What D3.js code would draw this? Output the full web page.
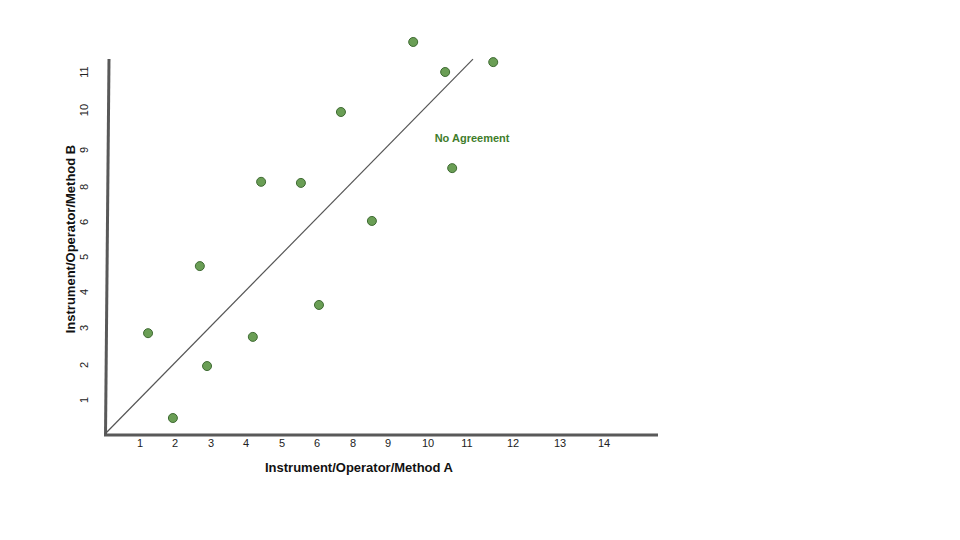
<!DOCTYPE html>
<html><head><meta charset="utf-8">
<script src="https://cdn.jsdelivr.net/npm/d3@7"></script>
<style>body{margin:0;background:#fff}svg{display:block}text{font-family:"Liberation Sans",Arial,sans-serif}</style>
</head><body>
<svg id="c" width="960" height="540"></svg>
<script>
// tick labels as printed on the hand-drawn axes (7 is skipped on both)
const xTicks = [1,2,3,4,5,6,8,9,10,11,12,13,14];
const yTicks = [1,2,3,4,5,6,8,9,10,11];
// measurements
const methodA = [1.23,1.94,2.69,2.89,4.19,4.42,5.54,6.11,7.33,8.54,9.63,10.44,10.62,11.57];
const methodB = [2.86,0.47,4.74,1.97,2.76,8.14,8.11,3.64,9.95,6.06,11.79,11.00,8.51,11.26];
// line of agreement endpoints
const agreeA = [0, 11.13];
const agreeB = [0, 11.34];
const annotation = {text:"No Agreement", a:11.11, b:9.27};

const svg = d3.select("#c");
// the axes are hand-spaced, so use piecewise scales through the printed ticks
const x = d3.scaleLinear().domain([0].concat(xTicks))
  .range([105,140,175,211,246,282,317,353,388,428,467,513,560,604]);
const y = d3.scaleLinear().domain([0].concat(yTicks))
  .range([434,400,365,328,292,257,222,187,150,110,72]);

// axes lines
svg.append("line").attr("x1",104).attr("y1",435).attr("x2",658).attr("y2",435)
  .attr("stroke","#595959").attr("stroke-width",3);
svg.append("line").attr("x1",105.5).attr("y1",436).attr("x2",109).attr("y2",59)
  .attr("stroke","#595959").attr("stroke-width",3);

// x tick labels
svg.append("g").selectAll("text").data(xTicks).join("text")
  .attr("x",d=>x(d)).attr("y",444).attr("text-anchor","middle")
  .attr("dominant-baseline","middle").attr("font-size",11).attr("fill","#222")
  .text(d=>d);
// y tick labels (rotated)
svg.append("g").selectAll("text").data(yTicks).join("text")
  .attr("transform",d=>`translate(85,${y(d)}) rotate(-90)`)
  .attr("text-anchor","middle").attr("dominant-baseline","middle")
  .attr("font-size",11).attr("fill","#222").text(d=>d);

// axis titles
svg.append("text").attr("x",359).attr("y",469).attr("text-anchor","middle")
  .attr("dominant-baseline","middle").attr("font-size",13).attr("font-weight","bold")
  .attr("fill","#111").text("Instrument/Operator/Method A");
svg.append("text").attr("transform","translate(72,239) rotate(-90)")
  .attr("text-anchor","middle").attr("dominant-baseline","middle")
  .attr("font-size",13).attr("font-weight","bold").attr("fill","#111")
  .text("Instrument/Operator/Method B");

// agreement line
svg.append("line").attr("x1",x(agreeA[0])).attr("y1",y(agreeB[0]))
  .attr("x2",x(agreeA[1])).attr("y2",y(agreeB[1]))
  .attr("stroke","#555").attr("stroke-width",1.2);

// points
svg.append("g").selectAll("circle").data(methodA.map((a,i)=>[a,methodB[i]])).join("circle")
  .attr("cx",d=>x(d[0])).attr("cy",d=>y(d[1])).attr("r",4.5)
  .attr("fill","#6a9e55").attr("stroke","#3e6a32").attr("stroke-width",1);

// annotation
svg.append("text").attr("x",x(annotation.a)).attr("y",y(annotation.b))
  .attr("text-anchor","middle").attr("dominant-baseline","middle")
  .attr("font-size",11).attr("font-weight","bold").attr("fill","#3f7d2b")
  .text(annotation.text);
</script>
</body></html>
